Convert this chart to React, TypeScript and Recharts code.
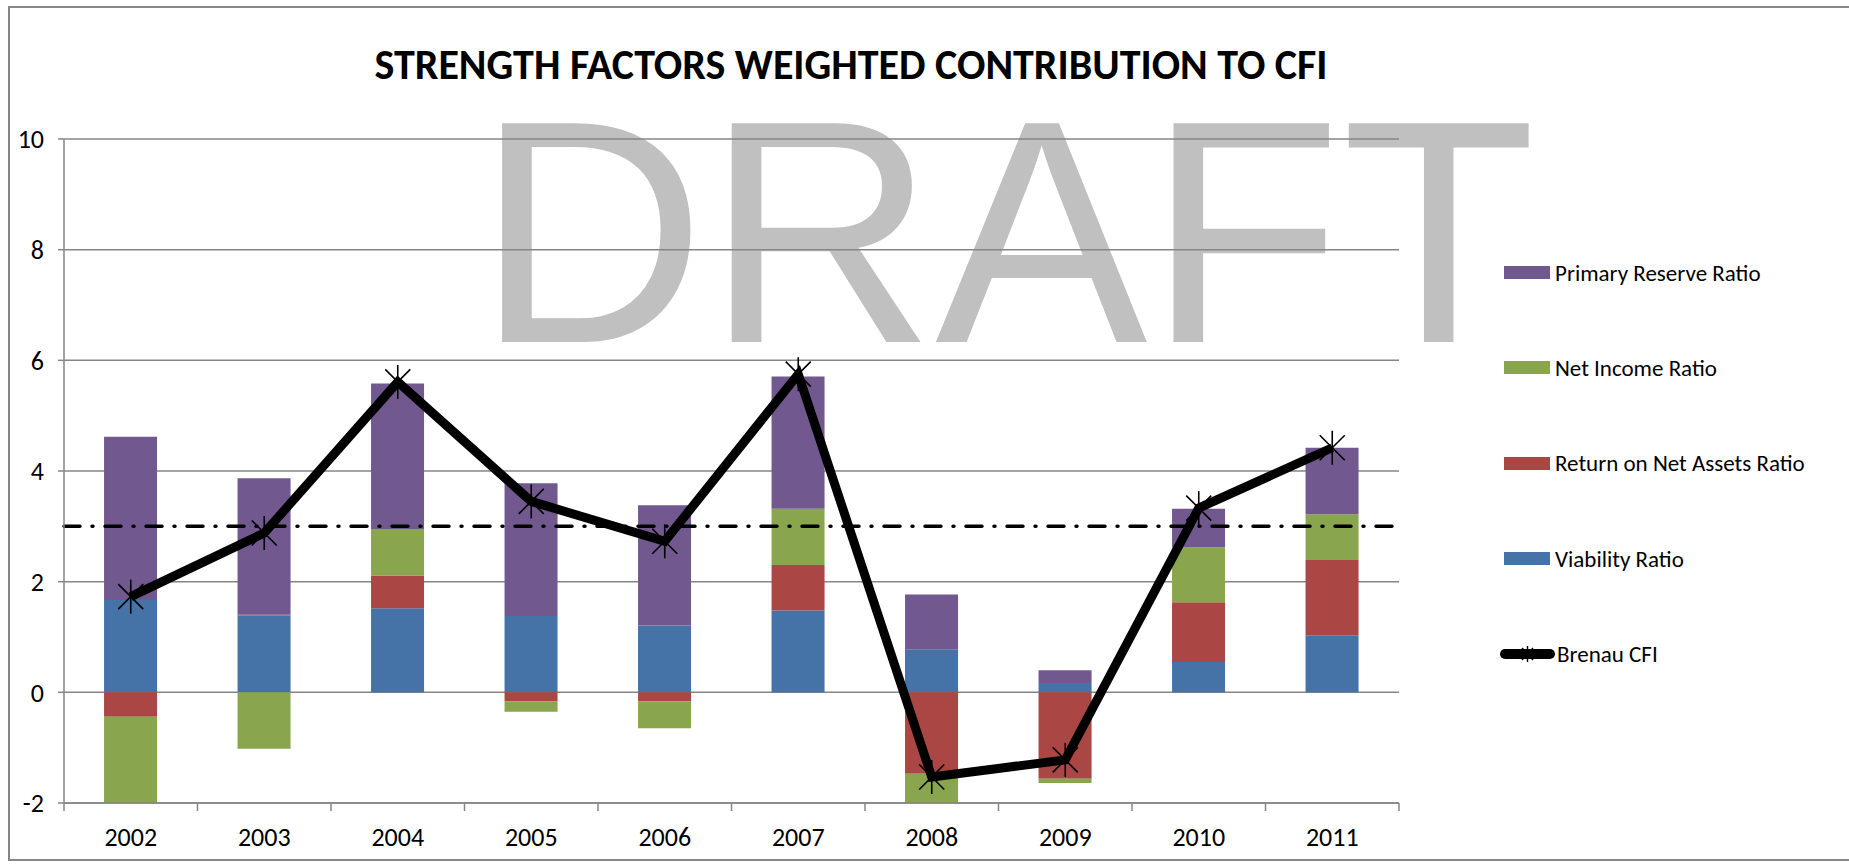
import React from 'react';
import { ComposedChart, Bar, Line, XAxis, YAxis, CartesianGrid, ReferenceLine, Legend } from 'recharts';

const years = ['2002', '2003', '2004', '2005', '2006', '2007', '2008', '2009', '2010', '2011'];
const viability = [1.67, 1.39, 1.52, 1.38, 1.21, 1.48, 0.77, 0.17, 0.55, 1.03];
const returnOnNetAssets = [-0.44, 0.01, 0.59, -0.16, -0.16, 0.82, -1.47, -1.56, 1.08, 1.36];
const netIncome = [-1.6, -1.02, 0.84, -0.19, -0.49, 1.02, -0.59, -0.08, 0.99, 0.83];
const primaryReserve = [2.95, 2.47, 2.63, 2.4, 2.17, 2.39, 1.0, 0.23, 0.7, 1.2];
const brenauCFI = [1.73, 2.88, 5.61, 3.45, 2.73, 5.75, -1.53, -1.22, 3.33, 4.42];
const threshold = 3;
const yTicks = [-2, 0, 2, 4, 6, 8, 10];

const title = 'STRENGTH FACTORS WEIGHTED CONTRIBUTION TO CFI';
const watermark = 'DRAFT';

const legendItems = [
  { name: 'Primary Reserve Ratio', color: '#71588F', kind: 'bar' },
  { name: 'Net Income Ratio', color: '#89A54E', kind: 'bar' },
  { name: 'Return on Net Assets Ratio', color: '#AA4643', kind: 'bar' },
  { name: 'Viability Ratio', color: '#4572A7', kind: 'bar' },
  { name: 'Brenau CFI', color: '#000000', kind: 'line' },
];

const data = years.map((year, i) => ({
  year,
  viability: viability[i],
  rona: returnOnNetAssets[i],
  netIncome: netIncome[i],
  primary: primaryReserve[i],
  cfi: brenauCFI[i],
}));

const FONT = 'Carlito, Lato, "Open Sans", sans-serif';
const GRID = '#868686';
const X_TICK_SIZE = 8;
const X_TICK_MARGIN = 17;

const StarDot = (props: any) => {
  const { cx, cy, index } = props;
  if (cx == null || cy == null) return null;
  const r = 17;
  const d = 12.5;
  return (
    <g key={`star-${index}`} stroke="#000" strokeWidth={1.6}>
      <line x1={cx - d} y1={cy - d} x2={cx + d} y2={cy + d} />
      <line x1={cx - d} y1={cy + d} x2={cx + d} y2={cy - d} />
      <line x1={cx} y1={cy - r} x2={cx} y2={cy + r} />
    </g>
  );
};

const XTick = (props: any) => {
  const { x, y, payload, index, visibleTicksCount } = props;
  const off = payload && payload.offset ? payload.offset : 0;
  const axisY = y - X_TICK_SIZE - X_TICK_MARGIN;
  const last = index === visibleTicksCount - 1;
  return (
    <g>
      <line x1={x - off} y1={axisY} x2={x - off} y2={axisY + X_TICK_SIZE} stroke={GRID} strokeWidth={1.5} />
      {last && (
        <line x1={x + off} y1={axisY} x2={x + off} y2={axisY + X_TICK_SIZE} stroke={GRID} strokeWidth={1.5} />
      )}
      <text x={x} y={y} dy={18} textAnchor="middle" fill="#000" fontSize={26} fontFamily={FONT}>
        {payload.value}
      </text>
    </g>
  );
};

const LegendContent = () => (
  <div style={{ fontFamily: FONT, fontSize: 23, color: '#000' }}>
    {legendItems.map((it) => (
      <div key={it.name} style={{ height: 95.3, display: 'flex', alignItems: 'center' }}>
        {it.kind === 'bar' ? (
          <div style={{ width: 46, height: 13, background: it.color, marginLeft: 6, marginRight: 5 }} />
        ) : (
          <svg width={55} height={24} style={{ marginLeft: 2, marginRight: 2 }}>
            <line x1={5} y1={12} x2={50} y2={12} stroke="#000" strokeWidth={10} strokeLinecap="round" />
            <g stroke="#000" strokeWidth={1.4}>
              <line x1={22} y1={6} x2={33} y2={18} />
              <line x1={22} y1={18} x2={33} y2={6} />
              <line x1={27.5} y1={4} x2={27.5} y2={20} />
            </g>
          </svg>
        )}
        <span style={{ whiteSpace: 'nowrap' }}>{it.name}</span>
      </div>
    ))}
  </div>
);

export default function App() {
  return (
    <div style={{ position: 'absolute', left: 0, top: 0, width: 1849, height: 864, overflow: 'hidden', background: '#fff' }}>
      <div
        style={{
          position: 'absolute',
          left: 8,
          top: 6,
          width: 1900,
          height: 855,
          border: `2px solid ${GRID}`,
          boxSizing: 'border-box',
        }}
      />
      <svg width={1849} height={864} style={{ position: 'absolute', left: 0, top: 0 }}>
        <text x={476} y={342} fontFamily='"Liberation Sans", Arial, sans-serif' fontSize={318} fill="#C0C0C0">
          {watermark}
        </text>
        <text x={851} y={79} textAnchor="middle" fontFamily={FONT} fontWeight={700} fontSize={42} fill="#000">
          {title}
        </text>
      </svg>
      <div style={{ position: 'absolute', left: 0, top: 0 }}>
        <ComposedChart
          width={1849}
          height={864}
          data={data}
          stackOffset="sign"
          barCategoryGap="30%"
          margin={{ top: 139, right: 450, bottom: 0, left: 8 }}
        >
          <CartesianGrid vertical={false} stroke={GRID} strokeWidth={1.5} />
          <XAxis
            dataKey="year"
            height={61}
            tickLine={false}
            tickSize={X_TICK_SIZE}
            tickMargin={X_TICK_MARGIN}
            axisLine={{ stroke: GRID, strokeWidth: 1.5 }}
            tick={<XTick />}
            interval={0}
          />
          <YAxis
            domain={[-2, 10]}
            ticks={yTicks}
            allowDataOverflow
            width={56}
            tickSize={6}
            tickMargin={14}
            axisLine={{ stroke: GRID, strokeWidth: 1.5 }}
            tickLine={{ stroke: GRID, strokeWidth: 1.5 }}
            tick={{ fill: '#000', fontSize: 26, fontFamily: FONT }}
          />
          <Bar dataKey="viability" name="Viability Ratio" stackId="a" fill="#4572A7" isAnimationActive={false} />
          <Bar dataKey="rona" name="Return on Net Assets Ratio" stackId="a" fill="#AA4643" isAnimationActive={false} />
          <Bar dataKey="netIncome" name="Net Income Ratio" stackId="a" fill="#89A54E" isAnimationActive={false} />
          <Bar dataKey="primary" name="Primary Reserve Ratio" stackId="a" fill="#71588F" isAnimationActive={false} />
          <ReferenceLine
            y={threshold}
            stroke="#000"
            strokeWidth={3.5}
            strokeDasharray="16 12 1 12"
            strokeLinecap="round"
          />
          <Line
            dataKey="cfi"
            name="Brenau CFI"
            stroke="#000"
            strokeWidth={9}
            dot={StarDot}
            activeDot={false}
            isAnimationActive={false}
          />
          <Legend
            layout="horizontal"
            verticalAlign="middle"
            align="center"
            content={<LegendContent />}
            wrapperStyle={{ left: 1498, top: 225, width: 345, height: 480 }}
          />
        </ComposedChart>
      </div>
    </div>
  );
}
